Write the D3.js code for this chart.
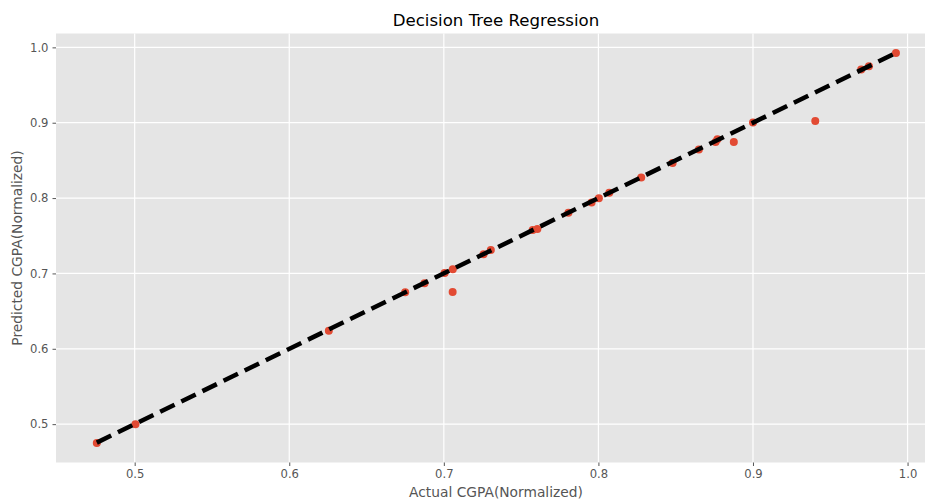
<!DOCTYPE html>
<html>
<head>
<meta charset="utf-8">
<script src="https://cdn.jsdelivr.net/npm/d3@7"></script>
<style>
  body { margin: 0; background: #fff; }
  svg { display: block; font-family: "DejaVu Sans", sans-serif; }
</style>
</head>
<body>
<script>
// data
var actual = [0.4755, 0.5005, 0.6256, 0.675, 0.6875, 0.7005, 0.7058, 0.7057, 0.7257, 0.7304,
  0.7575, 0.7605, 0.7806, 0.7956, 0.8003, 0.807, 0.8277, 0.848, 0.865, 0.8758,
  0.877, 0.8876, 0.9, 0.9403, 0.97, 0.975, 0.9925];
var predicted = [0.475, 0.5, 0.6241, 0.675, 0.6869, 0.7005, 0.7055, 0.6754, 0.7255, 0.731,
  0.7575, 0.7588, 0.7805, 0.7942, 0.7999, 0.807, 0.8273, 0.8467, 0.8644, 0.8745,
  0.878, 0.8745, 0.9002, 0.9023, 0.9705, 0.9748, 0.9925];
var tickValues = [0.5, 0.6, 0.7, 0.8, 0.9, 1.0];

var w = 925, h = 500;
var padLeft = 56, padTop = 33.5, pw = 880, ph = 429;

var points = actual.map(function(a, i) { return [a, predicted[i]]; });
var ext = d3.extent(actual);

var xScale = d3.scaleLinear().domain([0.4491, 1.0184]).range([padLeft, padLeft + pw]);
var yScale = d3.scaleLinear().domain([0.4491, 1.0184]).range([padTop + ph, padTop]);

var svg = d3.select("body").append("svg")
  .attr("width", w)
  .attr("height", h);

// panel background
svg.append("rect")
  .attr("x", padLeft).attr("y", padTop)
  .attr("width", pw).attr("height", ph)
  .attr("fill", "#e5e5e5");

// grid
svg.append("g").selectAll("line")
  .data(tickValues).enter().append("line")
  .attr("x1", function(d) { return xScale(d); })
  .attr("x2", function(d) { return xScale(d); })
  .attr("y1", padTop).attr("y2", padTop + ph)
  .attr("stroke", "#fff").attr("stroke-width", 1.2);
svg.append("g").selectAll("line")
  .data(tickValues).enter().append("line")
  .attr("y1", function(d) { return yScale(d); })
  .attr("y2", function(d) { return yScale(d); })
  .attr("x1", padLeft).attr("x2", padLeft + pw)
  .attr("stroke", "#fff").attr("stroke-width", 1.2);

// axes
var xAxis = d3.axisBottom(xScale).tickValues(tickValues).tickFormat(d3.format(".1f")).tickSize(3.5).tickPadding(4);
var yAxis = d3.axisLeft(yScale).tickValues(tickValues).tickFormat(d3.format(".1f")).tickSize(3.5).tickPadding(4);

var gx = svg.append("g")
  .attr("transform", "translate(0," + (padTop + ph) + ")")
  .call(xAxis);
var gy = svg.append("g")
  .attr("transform", "translate(" + padLeft + ",0)")
  .call(yAxis);

[gx, gy].forEach(function(g) {
  g.select(".domain").remove();
  g.selectAll(".tick line").attr("stroke", "#555").attr("stroke-width", 1);
  g.selectAll(".tick text").attr("fill", "#555").style("font-size", "11.6px")
    .style("font-family", "DejaVu Sans, sans-serif");
});

// scatter
svg.append("g").selectAll("circle")
  .data(points).enter().append("circle")
  .attr("cx", function(d) { return xScale(d[0]); })
  .attr("cy", function(d) { return yScale(d[1]); })
  .attr("r", 4)
  .attr("fill", "#e24a33");

// ideal line, min to max of actual
svg.append("line")
  .attr("x1", xScale(ext[0])).attr("y1", yScale(ext[0]))
  .attr("x2", xScale(ext[1])).attr("y2", yScale(ext[1]))
  .attr("stroke", "#000")
  .attr("stroke-width", 4.5)
  .attr("stroke-dasharray", "16,7.5");

// title and labels
svg.append("text")
  .attr("x", padLeft + pw / 2).attr("y", 26)
  .attr("text-anchor", "middle")
  .style("font-size", "16.6px")
  .attr("fill", "#000")
  .text("Decision Tree Regression");

svg.append("text")
  .attr("x", padLeft + pw / 2).attr("y", 497)
  .attr("text-anchor", "middle")
  .style("font-size", "13.8px")
  .attr("fill", "#555")
  .text("Actual CGPA(Normalized)");

svg.append("text")
  .attr("transform", "translate(22," + (padTop + ph / 2) + ") rotate(-90)")
  .attr("text-anchor", "middle")
  .style("font-size", "13.8px")
  .attr("fill", "#555")
  .text("Predicted CGPA(Normalized)");
</script>
</body>
</html>
